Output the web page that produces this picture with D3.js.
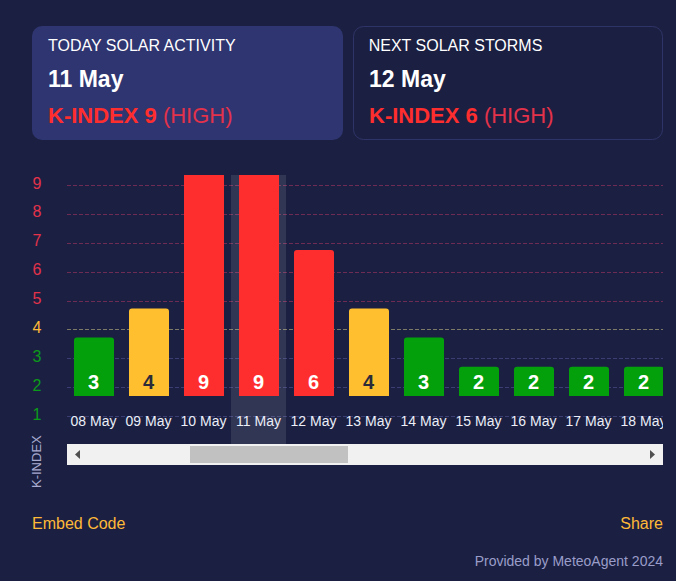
<!DOCTYPE html>
<html>
<head>
<meta charset="utf-8">
<script src="https://cdn.jsdelivr.net/npm/d3@7"></script>
<style>
    html, body { margin: 0; padding: 0; background: #1b2042; overflow: hidden; }
    text { font-family: "Liberation Sans", Arial, sans-serif; }
</style>
</head>
<body>
<div id="chart"></div>
<script>
const dates = ["08 May", "09 May", "10 May", "11 May", "12 May", "13 May", "14 May", "15 May", "16 May", "17 May", "18 May"]
const kIndex = [3, 4, 9, 9, 6, 4, 3, 2, 2, 2, 2]
const yTicks = [1, 2, 3, 4, 5, 6, 7, 8, 9]
const today = "11 May"

const cardTitles = ["TODAY SOLAR ACTIVITY", "NEXT SOLAR STORMS"]
const cardDates = ["11 May", "12 May"]
const cardIndex = ["K-INDEX 9", "K-INDEX 6"]
const cardLevels = ["(HIGH)", "(HIGH)"]

const width = 676, height = 581

// colour by storm level
const barColor = v => v >= 5 ? "#ff2e2e" : v == 4 ? "#ffbf2e" : "#04a00c"
const tickColor = v => v >= 5 ? "#e3324a" : v == 4 ? "#ffb938" : "#0c9a1a"
const gridColor = v => v >= 5 ? "#6e2c55" : v == 4 ? "#7d7a68" : "#3a3e72"

const svg = d3.select("#chart").append("svg")
    .attr("width", width)
    .attr("height", height)
    .style("display", "block")

svg.append("rect").attr("width", width).attr("height", height).attr("fill", "#1b2042")

// top cards
const cardX = d3.scaleOrdinal().domain(cardTitles).range([32, 353])
const cards = svg.selectAll(".card").data(cardTitles).join("g")
    .attr("class", "card")
    .attr("transform", d => `translate(${cardX(d)},26)`)

cards.append("rect")
    .attr("x", (d, i) => i ? 0.5 : 0)
    .attr("y", (d, i) => i ? 0.5 : 0)
    .attr("width", (d, i) => i ? 309 : 311)
    .attr("height", (d, i) => i ? 113 : 114)
    .attr("rx", 10)
    .attr("fill", (d, i) => i ? "none" : "#2f3570")
    .attr("stroke", (d, i) => i ? "#2f3468" : "none")

cards.append("text").attr("x", (d, i) => i ? 15.7 : 16).attr("y", 25)
    .attr("font-size", 16).attr("fill", "#ffffff")
    .text(d => d)

cards.append("text").attr("x", 16).attr("y", 61)
    .attr("font-size", 23).attr("font-weight", "bold").attr("fill", "#ffffff")
    .text((d, i) => cardDates[i])

const indexText = cards.append("text").attr("x", 16).attr("y", 97).attr("font-size", 22)
indexText.append("tspan").attr("font-weight", "bold").attr("fill", "#ff2e2e").text((d, i) => cardIndex[i])
indexText.append("tspan").attr("fill", "#e3324a").text((d, i) => " " + cardLevels[i])

// scales
const x = d3.scaleBand()
    .domain(dates)
    .range([66.5, 671.5])
    .paddingInner(15 / 55)
    .paddingOuter(7.5 / 55)

const y = d3.scaleLinear().domain([1, 9]).range([416, 185])
// bars sit on their own baseline above the date labels
const yBar = d3.scaleLinear().domain([1, 6]).range([396, 250])

svg.append("clipPath").attr("id", "plot-clip").append("rect")
    .attr("x", 67).attr("y", 175).attr("width", 596).attr("height", 269)

// grid
svg.append("g").selectAll("line").data(yTicks).join("line")
    .attr("x1", 67).attr("x2", 663)
    .attr("y1", d => Math.round(y(d)) + 0.5)
    .attr("y2", d => Math.round(y(d)) + 0.5)
    .attr("stroke", gridColor)
    .attr("stroke-dasharray", "4 2")

// y labels
svg.append("g").selectAll("text").data(yTicks).join("text")
    .attr("x", 37)
    .attr("y", d => y(d) + 3.5)
    .attr("text-anchor", "middle")
    .attr("font-size", 16)
    .attr("fill", tickColor)
    .text(d => d)

svg.append("text")
    .attr("transform", "translate(41,488) rotate(-90)")
    .attr("font-size", 13)
    .attr("fill", "#a9abd0")
    .text("K-INDEX")

const plot = svg.append("g").attr("clip-path", "url(#plot-clip)")

// selected day
plot.append("rect")
    .attr("x", Math.floor(x(today) - 7.5))
    .attr("y", 175)
    .attr("width", x.step())
    .attr("height", 269)
    .attr("fill", "#ffffff")
    .attr("fill-opacity", 0.1)

// bars, rounded at the top only
const barPath = (d, i) => {
    const left = Math.round(x(dates[i])), right = left + x.bandwidth()
    const top = yBar(d), bottom = yBar(1), r = 3
    const path = d3.path()
    path.moveTo(left, bottom)
    path.lineTo(left, top + r)
    path.quadraticCurveTo(left, top, left + r, top)
    path.lineTo(right - r, top)
    path.quadraticCurveTo(right, top, right, top + r)
    path.lineTo(right, bottom)
    path.closePath()
    return path.toString()
}

plot.selectAll(".bar").data(kIndex).join("path")
    .attr("class", "bar")
    .attr("d", barPath)
    .attr("fill", barColor)

const center = date => Math.round(x(date)) + x.bandwidth() / 2 - 0.5

plot.selectAll(".value").data(kIndex).join("text")
    .attr("class", "value")
    .attr("x", (d, i) => center(dates[i]))
    .attr("y", 389)
    .attr("text-anchor", "middle")
    .attr("font-size", 20)
    .attr("font-weight", "bold")
    .attr("fill", d => d == 4 ? "#2b2b3a" : "#ffffff")
    .text(d => d)

plot.selectAll(".date").data(dates).join("text")
    .attr("class", "date")
    .attr("x", d => center(d))
    .attr("y", 426)
    .attr("text-anchor", "middle")
    .attr("font-size", 14)
    .attr("fill", "#eceef8")
    .text(d => d)

// scrollbar
const scrollbar = svg.append("g")
scrollbar.append("rect").attr("x", 67).attr("y", 444).attr("width", 596).attr("height", 21).attr("fill", "#f1f1f1")
scrollbar.append("rect").attr("x", 190).attr("y", 446).attr("width", 158).attr("height", 17).attr("fill", "#c1c1c1")
scrollbar.append("path").attr("d", "M75 454.5 L80 450 L80 459 Z").attr("fill", "#505050")
scrollbar.append("path").attr("d", "M655 454.5 L650 450 L650 459 Z").attr("fill", "#505050")

// footer
svg.append("text").attr("x", 32).attr("y", 529)
    .attr("font-size", 16).attr("fill", "#ffb938")
    .text("Embed Code")

svg.append("text").attr("x", 663).attr("y", 529).attr("text-anchor", "end")
    .attr("font-size", 16).attr("fill", "#ffb938")
    .text("Share")

svg.append("text").attr("x", 663).attr("y", 566).attr("text-anchor", "end")
    .attr("font-size", 14).attr("fill", "#9a9dc9")
    .text("Provided by MeteoAgent 2024")
</script>
</body>
</html>
